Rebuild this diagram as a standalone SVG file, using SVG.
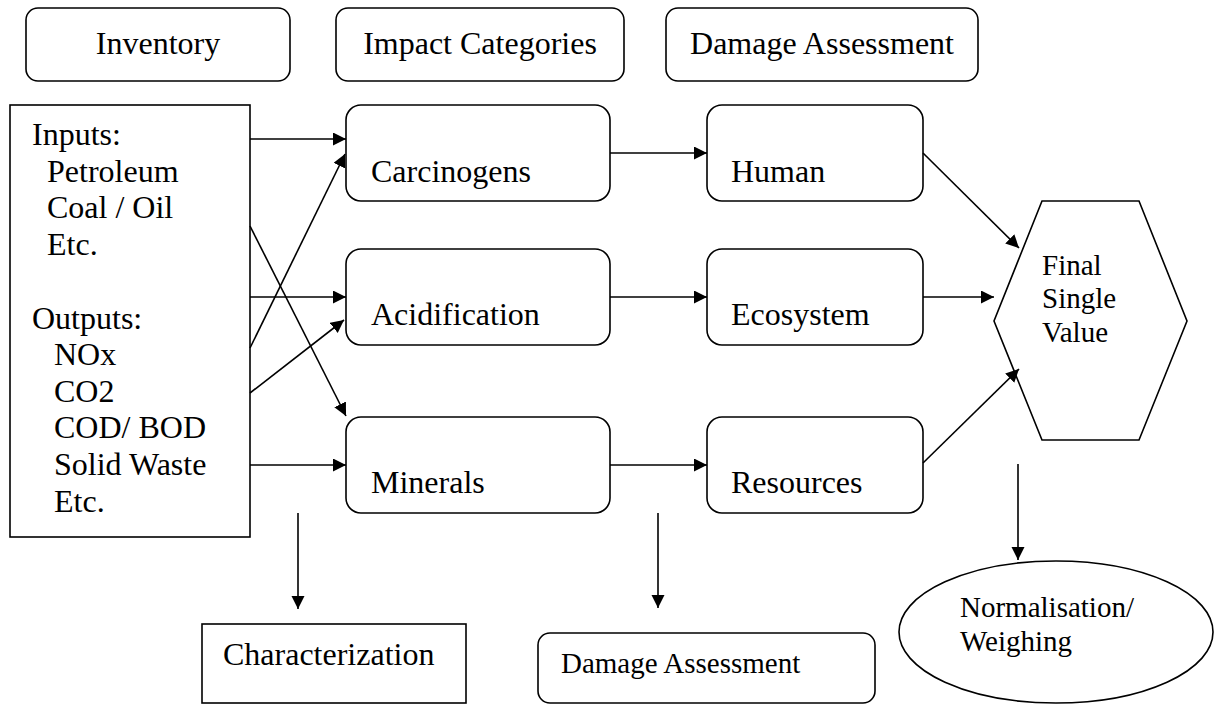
<svg xmlns="http://www.w3.org/2000/svg" width="1215" height="705" viewBox="0 0 1215 705">
<defs>
<marker id="ah" markerUnits="userSpaceOnUse" markerWidth="14" markerHeight="14" refX="13" refY="6.5" orient="auto">
<path d="M0,0 L13,6.5 L0,13 z" fill="#000"/>
</marker>
<style>
.b{fill:#fff;stroke:#000;stroke-width:1.6}
text{font-family:'Liberation Serif','Times New Roman','DejaVu Serif',serif;fill:#000}
.t{font-size:32px}
.s{font-size:29px}
.c{stroke:#000;stroke-width:1.6;fill:none;marker-end:url(#ah)}
</style>
</defs>
<rect width="1215" height="705" fill="#fff"/>
<g font-family="Liberation Serif, serif">
<g id="inventory-head"><rect class="b" x="26" y="8" width="264" height="73" rx="12"/><text class="t" x="158" y="54" text-anchor="middle">Inventory</text></g>
<g id="impact-head"><rect class="b" x="336" y="8" width="288" height="73" rx="12"/><text class="t" x="480" y="54" text-anchor="middle">Impact Categories</text></g>
<g id="damage-head"><rect class="b" x="666" y="8" width="312" height="73" rx="12"/><text class="t" x="822" y="54" text-anchor="middle">Damage Assessment</text></g>
<g id="inventory">
<rect class="b" x="10" y="105" width="240" height="432"/>
<text class="t"><tspan x="32" y="145">Inputs:</tspan><tspan x="47" y="182">Petroleum</tspan><tspan x="47" y="218">Coal / Oil</tspan><tspan x="47" y="255">Etc.</tspan><tspan x="32" y="329">Outputs:</tspan><tspan x="54" y="365">NOx</tspan><tspan x="54" y="402">CO2</tspan><tspan x="54" y="438">COD/ BOD</tspan><tspan x="54" y="475">Solid Waste</tspan><tspan x="54" y="512">Etc.</tspan></text>
</g>
<g id="carcinogens"><rect class="b" x="346" y="105" width="264" height="96" rx="15"/><text class="t" x="371" y="182">Carcinogens</text></g>
<g id="acidification"><rect class="b" x="346" y="249" width="264" height="96" rx="15"/><text class="t" x="371" y="325">Acidification</text></g>
<g id="minerals"><rect class="b" x="346" y="417" width="264" height="96" rx="15"/><text class="t" x="371" y="493">Minerals</text></g>
<g id="human"><rect class="b" x="707" y="105" width="216" height="96" rx="15"/><text class="t" x="731" y="182">Human</text></g>
<g id="ecosystem"><rect class="b" x="707" y="249" width="216" height="96" rx="15"/><text class="t" x="731" y="325">Ecosystem</text></g>
<g id="resources"><rect class="b" x="707" y="417" width="216" height="96" rx="15"/><text class="t" x="731" y="493">Resources</text></g>
<g id="final"><polygon class="b" points="1042,201 1139,201 1187,321 1139,440 1042,440 994,321"/><text class="s"><tspan x="1042" y="275">Final</tspan><tspan x="1042" y="308">Single</tspan><tspan x="1042" y="342">Value</tspan></text></g>
<g id="characterization"><rect class="b" x="202" y="624" width="264" height="79"/><text class="t" x="223" y="665">Characterization</text></g>
<g id="damage"><rect class="b" x="538" y="633" width="337" height="70" rx="12"/><text class="s" x="561" y="673">Damage Assessment</text></g>
<g id="normalisation"><ellipse class="b" cx="1056" cy="632" rx="157" ry="71"/><text class="s"><tspan x="960" y="617">Normalisation/</tspan><tspan x="960" y="651">Weighing</tspan></text></g>
</g>
<g id="connectors">
<line class="c" x1="250" y1="139" x2="346" y2="139"/>
<line class="c" x1="250" y1="348" x2="345" y2="154"/>
<line class="c" x1="250" y1="226" x2="346" y2="416"/>
<line class="c" x1="250" y1="297" x2="346" y2="297"/>
<line class="c" x1="250" y1="393" x2="344" y2="320"/>
<line class="c" x1="250" y1="465" x2="346" y2="465"/>
<line class="c" x1="610" y1="153" x2="707" y2="153"/>
<line class="c" x1="610" y1="297" x2="707" y2="297"/>
<line class="c" x1="610" y1="465" x2="707" y2="465"/>
<line class="c" x1="923" y1="153" x2="1019" y2="248"/>
<line class="c" x1="923" y1="297" x2="994" y2="297"/>
<line class="c" x1="923" y1="463" x2="1019" y2="369"/>
<line class="c" x1="298" y1="513" x2="298" y2="609"/>
<line class="c" x1="658" y1="513" x2="658" y2="608"/>
<line class="c" x1="1018" y1="464" x2="1018" y2="560"/>
</g>
</svg>
